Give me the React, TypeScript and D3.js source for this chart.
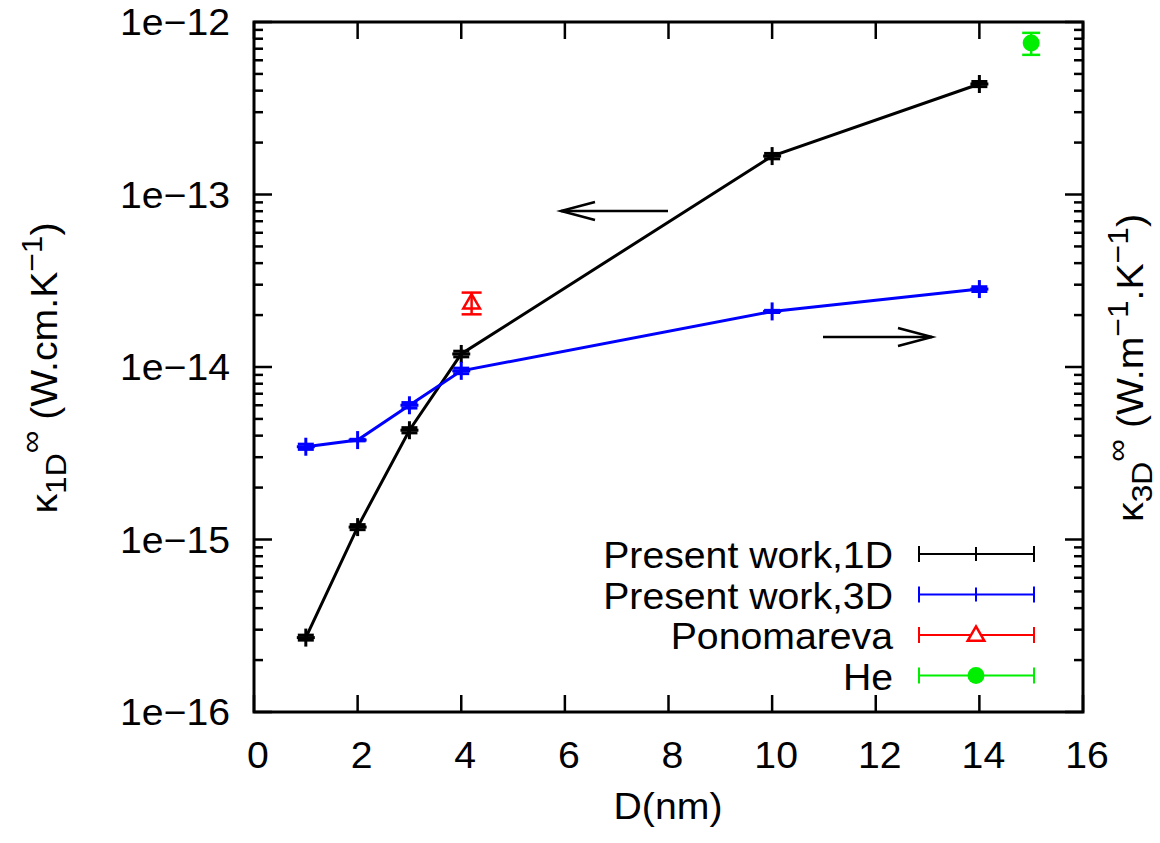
import React from "react";
import * as d3 from "d3";

const D_1D = [1, 2, 3, 4, 10, 14];
const K_1D = [2.7e-16, 1.18e-15, 4.3e-15, 1.19e-14, 1.67e-13, 4.37e-13];
const K_1D_ERR = [0.9e-17, 4e-17, 1.5e-16, 4.5e-16, 6e-15, 1.5e-14];
const D_3D = [1, 2, 3, 4, 10, 14];
const K_3D = [3.45e-15, 3.77e-15, 6.0e-15, 9.5e-15, 2.1e-14, 2.83e-14];
const K_3D_ERR = [1.2e-16, 0.4e-16, 2.2e-16, 3.5e-16, 0.3e-15, 0.9e-15];
const PONO_X = [4.2];
const PONO_Y = [2.36e-14];
const PONO_ERR = [0.34e-14];
const HE_X = [15];
const HE_Y = [7.55e-13];
const HE_ERR = [1.1e-13];
const X_TICKS = [0, 2, 4, 6, 8, 10, 12, 14, 16];
const Y_TICKS = [1e-16, 1e-15, 1e-14, 1e-13, 1e-12];
const Y_TICK_LABELS = ["1e\u221216", "1e\u221215", "1e\u221214", "1e\u221213", "1e\u221212"];
const LEGEND = ["Present work,1D", "Present work,3D", "Ponomareva", "He"];

const FONT = "'Liberation Sans', Arial, Helvetica, sans-serif";
const FS = 37;
const SUB = 30;
const SX = 1.06;

const L = 254, R = 1083, T = 22, B = 712;

function Txt({ x, y, anchor = "start", rot = 0, children, size = FS }: any) {
  return (
    <text
      transform={`translate(${x},${y}) rotate(${rot}) scale(${SX},1)`}
      textAnchor={anchor}
      fontFamily={FONT}
      fontSize={size}
      fill="#000"
    >
      {children}
    </text>
  );
}

function ErrPlus({ cx, y0, y1, yc, color, h = 9, cap = 8, sw = 2.5 }: any) {
  return (
    <g stroke={color} strokeWidth={sw} fill="none">
      <line x1={cx} x2={cx} y1={y0} y2={y1} />
      <line x1={cx - cap} x2={cx + cap} y1={y0} y2={y0} />
      <line x1={cx - cap} x2={cx + cap} y1={y1} y2={y1} />
      <line x1={cx - h} x2={cx + h} y1={yc} y2={yc} />
      <line x1={cx} x2={cx} y1={yc - h} y2={yc + h} />
    </g>
  );
}

export default function App() {
  const x = d3.scaleLinear().domain([0, 16]).range([L, R]);
  const y = d3.scaleLog().domain([1e-16, 1e-12]).range([B, T]);

  const minors: number[] = [];
  for (let e = -16; e < -12; e++) {
    for (let m = 2; m <= 9; m++) minors.push(m * Math.pow(10, e));
  }

  const line = d3
    .line<[number, number]>()
    .x((d) => x(d[0]))
    .y((d) => y(d[1]));

  const d1: [number, number][] = D_1D.map((d, i) => [d, K_1D[i]]);
  const d3d: [number, number][] = D_3D.map((d, i) => [d, K_3D[i]]);

  const legendY = (i: number) => 554 + i * 40.5;
  const lx0 = 919, lx1 = 1034, lxm = 976;
  const colors = ["#000000", "#0000ff", "#ff0000", "#00ee00"];

  return (
    <svg width={1160} height={843} style={{ position: "absolute", left: 0, top: 0 }}>
      <rect x={0} y={0} width={1160} height={843} fill="#fff" />
      {/* ticks */}
      <g stroke="#000" strokeWidth={2.5}>
        {X_TICKS.map((t) => (
          <g key={"xt" + t}>
            <line x1={x(t)} x2={x(t)} y1={B} y2={B - 17} />
            <line x1={x(t)} x2={x(t)} y1={T} y2={T + 17} />
          </g>
        ))}
        {Y_TICKS.map((t) => (
          <g key={"yt" + t}>
            <line x1={L} x2={L + 18} y1={y(t)} y2={y(t)} />
            <line x1={R} x2={R - 18} y1={y(t)} y2={y(t)} />
          </g>
        ))}
        {minors.map((t, i) => (
          <g key={"ym" + i}>
            <line x1={L} x2={L + 9} y1={y(t)} y2={y(t)} />
            <line x1={R} x2={R - 9} y1={y(t)} y2={y(t)} />
          </g>
        ))}
      </g>
      {/* tick labels */}
      {X_TICKS.map((t) => (
        <Txt key={"xl" + t} x={x(t) + 4} y={768} anchor="middle">
          {t}
        </Txt>
      ))}
      {Y_TICKS.map((t, i) => (
        <Txt key={"yl" + t} x={230} y={y(t) + 13} anchor="end">
          {Y_TICK_LABELS[i]}
        </Txt>
      ))}
      {/* axis titles */}
      <Txt x={668} y={819} anchor="middle">D(nm)</Txt>
      <Txt x={57} y={368} anchor="middle" rot={-90}>
        κ
        <tspan fontSize={SUB} dy={9}>1D</tspan>
        <tspan fontSize={SUB} dy={-25}>∞</tspan>
        <tspan dy={16}> (W.cm.K</tspan>
        <tspan fontSize={SUB} dy={-15}>−1</tspan>
        <tspan dy={15}>)</tspan>
      </Txt>
      <Txt x={1143} y={368} anchor="middle" rot={-90}>
        κ
        <tspan fontSize={SUB} dy={9}>3D</tspan>
        <tspan fontSize={SUB} dy={-25}>∞</tspan>
        <tspan dy={16}> (W.m</tspan>
        <tspan fontSize={SUB} dy={-15}>−1</tspan>
        <tspan dy={15}>.K</tspan>
        <tspan fontSize={SUB} dy={-15}>−1</tspan>
        <tspan dy={15}>)</tspan>
      </Txt>

      {/* arrows */}
      <g stroke="#000" strokeWidth={2.5} fill="none">
        <line x1={668} x2={561} y1={211} y2={211} />
        <polyline points="595,202 561,211 595,220" />
        <line x1={823} x2={932} y1={337} y2={337} />
        <polyline points="898,328 932,337 898,346" />
      </g>

      {/* data lines */}
      <path d={line(d1) || ""} stroke="#000" strokeWidth={3} fill="none" />
      <path d={line(d3d) || ""} stroke="#0000ff" strokeWidth={3} fill="none" />
      {d1.map((d, i) => (
        <ErrPlus
          key={"p1" + i}
          cx={x(d[0])}
          y0={y(d[1] - K_1D_ERR[i])}
          y1={y(d[1] + K_1D_ERR[i])}
          yc={y(d[1])}
          color="#000"
          sw={3}
        />
      ))}
      {d3d.map((d, i) => (
        <ErrPlus
          key={"p3" + i}
          cx={x(d[0])}
          y0={y(d[1] - K_3D_ERR[i])}
          y1={y(d[1] + K_3D_ERR[i])}
          yc={y(d[1])}
          color="#0000ff"
          sw={3}
        />
      ))}
      {/* Ponomareva */}
      {PONO_X.map((px, i) => {
        const cx = x(px), cy = y(PONO_Y[i]);
        const y0 = y(PONO_Y[i] - PONO_ERR[i]), y1 = y(PONO_Y[i] + PONO_ERR[i]);
        return (
          <g key={"po" + i} stroke="#ff0000" strokeWidth={2.5} fill="none">
            <line x1={cx} x2={cx} y1={y0} y2={y1} />
            <line x1={cx - 10} x2={cx + 10} y1={y0} y2={y0} />
            <line x1={cx - 10} x2={cx + 10} y1={y1} y2={y1} />
            <path d={d3.symbol(d3.symbolTriangle, 120)() || ""} transform={`translate(${cx},${cy + 1})`} />
          </g>
        );
      })}
      {/* He */}
      {HE_X.map((hx, i) => {
        const cx = x(hx), cy = y(HE_Y[i]);
        const y0 = y(HE_Y[i] - HE_ERR[i]), y1 = y(HE_Y[i] + HE_ERR[i]);
        return (
          <g key={"he" + i} stroke="#00ee00" strokeWidth={2.5} fill="#00ee00">
            <line x1={cx} x2={cx} y1={y0} y2={y1} />
            <line x1={cx - 9} x2={cx + 9} y1={y0} y2={y0} />
            <line x1={cx - 9} x2={cx + 9} y1={y1} y2={y1} />
            <circle cx={cx} cy={cy} r={8.5} stroke="none" />
          </g>
        );
      })}

      {/* legend */}
      {LEGEND.map((name, i) => {
        const ly = legendY(i);
        const c = colors[i];
        return (
          <g key={"lg" + i}>
            <Txt x={893} y={ly + 14} anchor="end">{name}</Txt>
            <g stroke={c} strokeWidth={2} fill="none">
              <line x1={lx0} x2={lx1} y1={ly} y2={ly} />
              <line x1={lx0} x2={lx0} y1={ly - 8} y2={ly + 8} />
              <line x1={lx1} x2={lx1} y1={ly - 8} y2={ly + 8} />
              {i < 2 && <line x1={lxm} x2={lxm} y1={ly - 7} y2={ly + 7} />}
            </g>
            {i === 2 && (
              <path
                d={d3.symbol(d3.symbolTriangle, 120)() || ""}
                transform={`translate(${lxm},${ly + 1})`}
                stroke={c}
                strokeWidth={2.5}
                fill="#fff"
              />
            )}
            {i === 3 && <circle cx={lxm} cy={ly} r={8.5} fill={c} />}
          </g>
        );
      })}

      {/* frame */}
      <rect x={L} y={T} width={R - L} height={B - T} fill="none" stroke="#000" strokeWidth={3} />
    </svg>
  );
}
